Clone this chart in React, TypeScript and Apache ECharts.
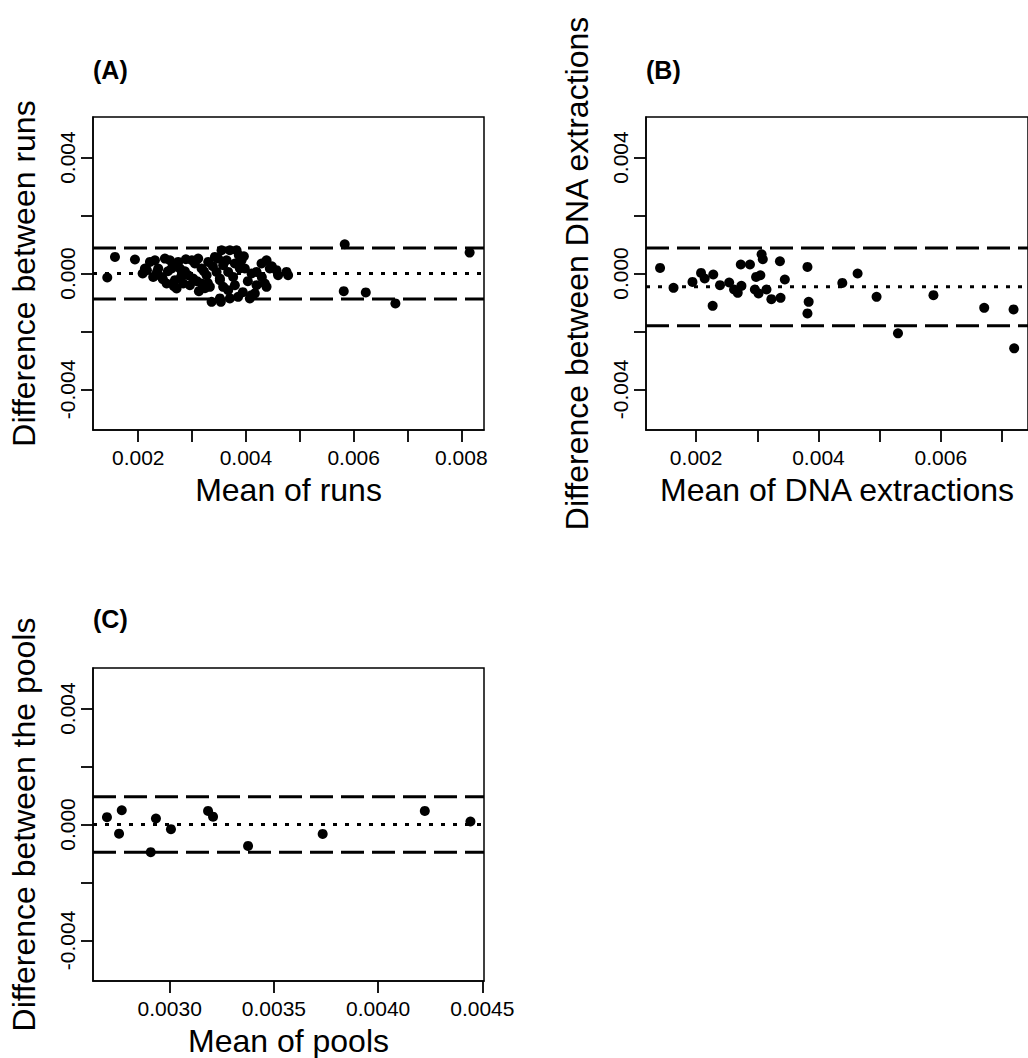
import React, { useEffect, useRef } from "react";
import * as echarts from "echarts";

// Panel A: Mean of runs vs difference between runs
const meanA = [
  0.001425, 0.001568, 0.001939, 0.002082, 0.002124, 0.002161, 0.002217, 0.002278, 0.00231, 0.002371,
  0.002434, 0.002495, 0.002527, 0.002588, 0.00262, 0.002681, 0.002712, 0.002742, 0.002774, 0.002835,
  0.002928, 0.00302, 0.003052, 0.003113, 0.003176, 0.003176, 0.003269, 0.003299, 0.00333, 0.003362,
  0.003423, 0.003454, 0.003516, 0.003534, 0.003577, 0.003547, 0.003701, 0.003825, 0.003484, 0.00364,
  0.003794, 0.003918, 0.003516, 0.00367, 0.003762, 0.003887, 0.003979, 0.003577, 0.00367, 0.003794,
  0.003516, 0.003701, 0.003855, 0.004104, 0.004197, 0.004289, 0.004382, 0.004443, 0.004567, 0.004597,
  0.004753, 0.004783, 0.004197, 0.004165, 0.004382, 0.004072, 0.00435, 0.004104, 0.002347, 0.002458,
  0.002551, 0.002644, 0.002662, 0.002792, 0.002866, 0.002959, 0.003089, 0.003219, 0.003293, 0.003386,
  0.002885, 0.002996, 0.003126, 0.003237, 0.003942, 0.004035, 0.004295, 0.00448, 0.003961, 0.003868,
  0.005834, 0.005816, 0.006225, 0.006775, 0.008153,
];
const diffA = [
  -0.000138, 0.000571, 0.000482, 0.0, 0.000172, 0.000114, 0.000399, -0.000117, 0.000458, 0.000172,
  -0.000117, 0.000516, -0.000344, 0.000458, 0.000172, -0.000231, -0.000516, 0.000399, 0.000172, -0.000344,
  -0.000059, -0.000172, 0.000344, 0.000516, 0.000172, -0.000344, -0.000059, 0.000399, -0.000461, -0.000978,
  0.000571, 0.000055, -0.000231, -0.000978, 0.000286, 0.000802, 0.000802, 0.000802, 0.000516, 0.000458,
  0.000344, 0.000458, -0.000172, 0.000055, -0.000117, 0.000172, 0.000172, -0.000461, -0.000575, -0.000403,
  -0.000861, -0.000861, -0.000805, 0.0, 0.000055, 0.000344, 0.000458, 0.000172, 0.000114, -0.000059,
  0.000055, -0.000059, -0.000403, -0.000688, -0.000461, -0.000861, -0.000344, -0.000747, 0.000045, -0.000196,
  0.000079, 0.00032, -0.000437, -0.000127, 0.000079, -0.000403, -0.000265, 0.000079, -0.000334, 0.000251,
  0.000492, 0.000458, -0.000609, -0.000506, -0.000644, -0.000265, -0.000127, 0.000251, 0.000595, 0.00063,
  0.001008, -0.000609, -0.000654, -0.001033, 0.000723,
];
const limitsA = { mean: 0.0, upper: 0.00088, lower: -0.00088 };

// Panel B: Mean of DNA extractions vs difference between DNA extractions
const meanB = [
  0.00141, 0.00163, 0.00194, 0.00208, 0.00214, 0.00228, 0.00227, 0.00239, 0.00254, 0.00262,
  0.00268, 0.00274, 0.00273, 0.00288, 0.00298, 0.00305, 0.00296, 0.00302, 0.00307, 0.00309,
  0.00315, 0.00323, 0.00338, 0.00337, 0.00345, 0.00382, 0.00384, 0.00382, 0.00439, 0.00464,
  0.00495, 0.0053, 0.00588, 0.00671, 0.00719, 0.0072,
];
const diffB = [
  0.000193, -0.000496, -0.000289, 0.00002, -0.000172, -0.000034, -0.001115, -0.000403, -0.00031, -0.000551,
  -0.000668, -0.000427, 0.00031, 0.00031, -0.000117, -0.000059, -0.000551, -0.000688, 0.000664, 0.000492,
  -0.000551, -0.000885, -0.00084, 0.000423, -0.000207, 0.000227, -0.000978, -0.001377, -0.000324, 0.0,
  -0.000805, -0.002065, -0.000747, -0.001184, -0.001239, -0.002582,
];
const limitsB = { mean: -0.00046, upper: 0.00088, lower: -0.0018 };

// Panel C: Mean of pools vs difference between the pools
const meanC = [
  0.002699, 0.00277, 0.002757, 0.002909, 0.002934, 0.003006, 0.003184, 0.003208, 0.003376, 0.003734,
  0.004224, 0.004443,
];
const diffC = [
  0.000252, 0.000493, -0.000317, -0.000955, 0.000207, -0.000162, 0.000469, 0.000269, -0.000738, -0.000324,
  0.000469, 0.000103,
];
const limitsC = { mean: 0.0, upper: 0.00096, lower: -0.00096 };

// Tick values
const yTicks = [-0.004, -0.002, 0, 0.002, 0.004];
const yTickLabels = [-0.004, 0, 0.004];
const xTicksAB = [0.002, 0.003, 0.004, 0.005, 0.006, 0.007, 0.008];
const xLabelsAB = [0.002, 0.004, 0.006, 0.008];
const xTicksC = [0.003, 0.0035, 0.004, 0.0045];

const FONT = '"Liberation Sans", Arial, Helvetica, sans-serif';

export default function App() {
  const ref = useRef<HTMLDivElement>(null);

  useEffect(() => {
    if (!ref.current) return;
    const chart = echarts.init(ref.current, null, { renderer: "svg" });

    const panels = [
      {
        grid: { left: 93, top: 117, width: 391, height: 313 },
        xMin: 0.00116, xMax: 0.00842, xTicks: xTicksAB, xLabels: xLabelsAB, digits: 3,
        xName: "Mean of runs", yName: "Difference between runs",
        mean: meanA, diff: diffA, lim: limitsA,
      },
      {
        grid: { left: 646, top: 117, width: 391, height: 313 },
        xMin: 0.00118, xMax: 0.007426, xTicks: xTicksAB, xLabels: xLabelsAB, digits: 3,
        xName: "Mean of DNA extractions", yName: "Difference between DNA extractions",
        mean: meanB, diff: diffB, lim: limitsB,
      },
      {
        grid: { left: 93, top: 668, width: 391, height: 314 },
        xMin: 0.002632, xMax: 0.004508, xTicks: xTicksC, xLabels: xTicksC, digits: 4,
        xName: "Mean of pools", yName: "Difference between the pools",
        mean: meanC, diff: diffC, lim: limitsC,
      },
    ];

    const axisLine = { show: true, onZero: false, lineStyle: { color: "#000", width: 1.5 } };

    const series: any[] = [];
    panels.forEach((p, i) => {
      series.push({
        type: "scatter",
        xAxisIndex: i,
        yAxisIndex: i,
        symbol: "circle",
        symbolSize: 10,
        itemStyle: { color: "#000", opacity: 1 },
        data: p.mean.map((m, k) => [m, p.diff[k]]),
        z: 3,
      });
      const lines = [
        { v: p.lim.upper, type: [23, 8] },
        { v: p.lim.lower, type: [23, 8] },
        { v: p.lim.mean, type: [4, 8] },
      ];
      lines.forEach((l) => {
        series.push({
          type: "line",
          xAxisIndex: i,
          yAxisIndex: i,
          symbol: "none",
          silent: true,
          z: 4,
          lineStyle: { color: "#000", width: 3, type: l.type },
          data: [
            [p.xMin, l.v],
            [p.xMax, l.v],
          ],
        });
      });
    });

    const option: any = {
      animation: false,
      backgroundColor: "#fff",
      grid: panels.map((p) => ({
        ...p.grid,
        show: true,
        borderColor: "#000",
        borderWidth: 1.5,
        backgroundColor: "transparent",
        containLabel: false,
      })),
      xAxis: panels.map((p, i) => ({
        type: "value",
        gridIndex: i,
        min: p.xMin,
        max: p.xMax,
        splitLine: { show: false },
        axisLine,
        axisTick: {
          show: true,
          inside: false,
          length: 12,
          customValues: p.xTicks,
          lineStyle: { color: "#000", width: 1.8 },
        },
        axisLabel: {
          show: true,
          customValues: p.xLabels,
          margin: 17,
          color: "#000",
          fontSize: 21,
          fontFamily: FONT,
          formatter: (v: number) => v.toFixed(p.digits),
        },
        name: p.xName,
        nameLocation: "middle",
        nameGap: 44,
        nameTextStyle: { color: "#000", fontSize: 32, fontFamily: FONT },
      })),
      yAxis: panels.map((p, i) => ({
        type: "value",
        gridIndex: i,
        min: -0.0054,
        max: 0.0054,
        splitLine: { show: false },
        axisLine,
        axisTick: {
          show: true,
          inside: false,
          length: 12,
          customValues: yTicks,
          lineStyle: { color: "#000", width: 1.8 },
        },
        axisLabel: {
          show: true,
          customValues: yTickLabels,
          rotate: 90,
          margin: 15,
          color: "#000",
          fontSize: 21,
          fontFamily: FONT,
          formatter: (v: number) => v.toFixed(3),
        },
        name: p.yName,
        nameLocation: "middle",
        nameGap: 53,
        nameTextStyle: { color: "#000", fontSize: 32, fontFamily: FONT },
      })),
      series,
      graphic: [
        { type: "text", left: 93, top: 57, style: { text: "(A)", font: `bold 25px ${FONT}`, fill: "#000" } },
        { type: "text", left: 646, top: 57, style: { text: "(B)", font: `bold 25px ${FONT}`, fill: "#000" } },
        { type: "text", left: 93, top: 606, style: { text: "(C)", font: `bold 25px ${FONT}`, fill: "#000" } },
      ],
    };

    chart.setOption(option);
    return () => chart.dispose();
  }, []);

  return (
    <div
      ref={ref}
      style={{ position: "absolute", left: 0, top: 0, width: 1028, height: 1058, background: "#fff" }}
    />
  );
}
